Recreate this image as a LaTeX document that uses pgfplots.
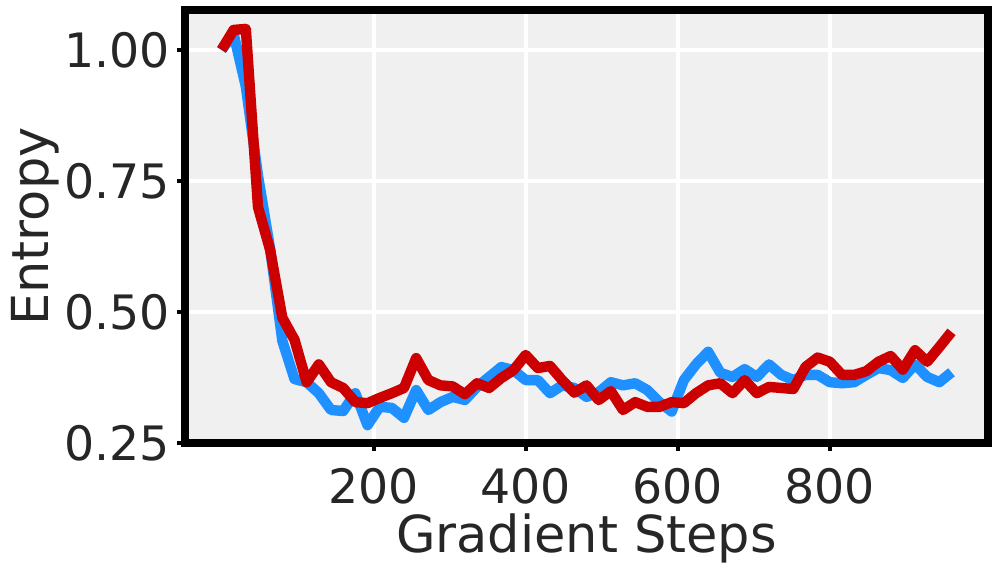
\documentclass[border=0pt]{standalone}
\usepackage{fontspec}
\setmainfont{DejaVu Sans}
\usepackage{pgfplots}
\pgfplotsset{compat=1.18}

\definecolor{bgray}{RGB}{240,240,240}
\definecolor{lblue}{RGB}{30,144,255}
\definecolor{dred}{RGB}{204,0,0}
\definecolor{txt}{RGB}{38,38,38}

\pgfplotstableread{
x    blue   red
0    1.000  1.000
16   1.030  1.038
32   0.930  1.040
48   0.760  0.700
64   0.620  0.618
80   0.445  0.489
96   0.372  0.447
112  0.366  0.366
128  0.345  0.400
144  0.313  0.366
160  0.311  0.355
176  0.345  0.328
192  0.284  0.326
208  0.319  0.336
224  0.317  0.345
240  0.298  0.355
256  0.351  0.412
272  0.313  0.370
288  0.328  0.360
304  0.338  0.358
320  0.332  0.343
336  0.357  0.364
352  0.376  0.355
368  0.395  0.374
384  0.389  0.389
400  0.370  0.418
416  0.370  0.393
432  0.345  0.397
448  0.360  0.370
464  0.355  0.346
480  0.338  0.360
496  0.347  0.332
512  0.366  0.349
528  0.360  0.313
544  0.364  0.328
560  0.351  0.319
576  0.328  0.319
592  0.310  0.328
608  0.370  0.326
624  0.400  0.345
640  0.424  0.360
656  0.384  0.364
672  0.376  0.345
688  0.391  0.370
704  0.376  0.345
720  0.400  0.357
736  0.380  0.355
752  0.370  0.353
768  0.380  0.395
784  0.380  0.413
800  0.366  0.405
816  0.364  0.380
832  0.366  0.380
848  0.380  0.387
864  0.393  0.405
880  0.389  0.416
896  0.374  0.390
912  0.400  0.427
928  0.376  0.405
944  0.366  0.433
960  0.385  0.462
}\entropy

\begin{document}
\begin{tikzpicture}[font=\fontsize{23.7}{28}\selectfont, text=txt]
	\useasboundingbox (-92.5pt,-63.5pt) rectangle (406pt,221.5pt);
	\begin{axis}[
		at={(0,0)}, anchor=south west,
		scale only axis, width=401.5pt, height=216.5pt,
		xmin=-48, xmax=1008, ymin=0.25, ymax=1.076,
		axis background/.style={fill=bgray},
		axis line style={line width=4pt, black},
		xtick={200,400,600,800}, ytick={0.25,0.5,0.75,1.0},
		tick align=outside, major tick length=4pt,
		tick style={line width=2pt, black},
		xtick pos=bottom, ytick pos=left,
		grid=major, major grid style={white, line width=2pt},
		y tick label style={/pgf/number format/.cd, fixed, fixed zerofill, precision=2},
		/pgf/number format/assume math mode=true,
		xticklabel style={inner sep=0pt, text depth=0pt, yshift=-8.6pt},
		xlabel={Gradient Steps}, ylabel={Entropy},
		label style={font=\fontsize{25.5}{30}\selectfont},
		xlabel style={at={(axis description cs:0.5,0)}, anchor=center, inner sep=0pt, yshift=-47.8pt},
		ylabel style={at={(axis description cs:0,0.5)}, anchor=center, yshift=75pt},
		]
		\addplot[lblue, line width=5.2pt, line join=round] table[x=x, y=blue] {\entropy};
		\addplot[dred, line width=5.2pt, line join=round] table[x=x, y=red] {\entropy};
	\end{axis}
\end{tikzpicture}
\end{document}
